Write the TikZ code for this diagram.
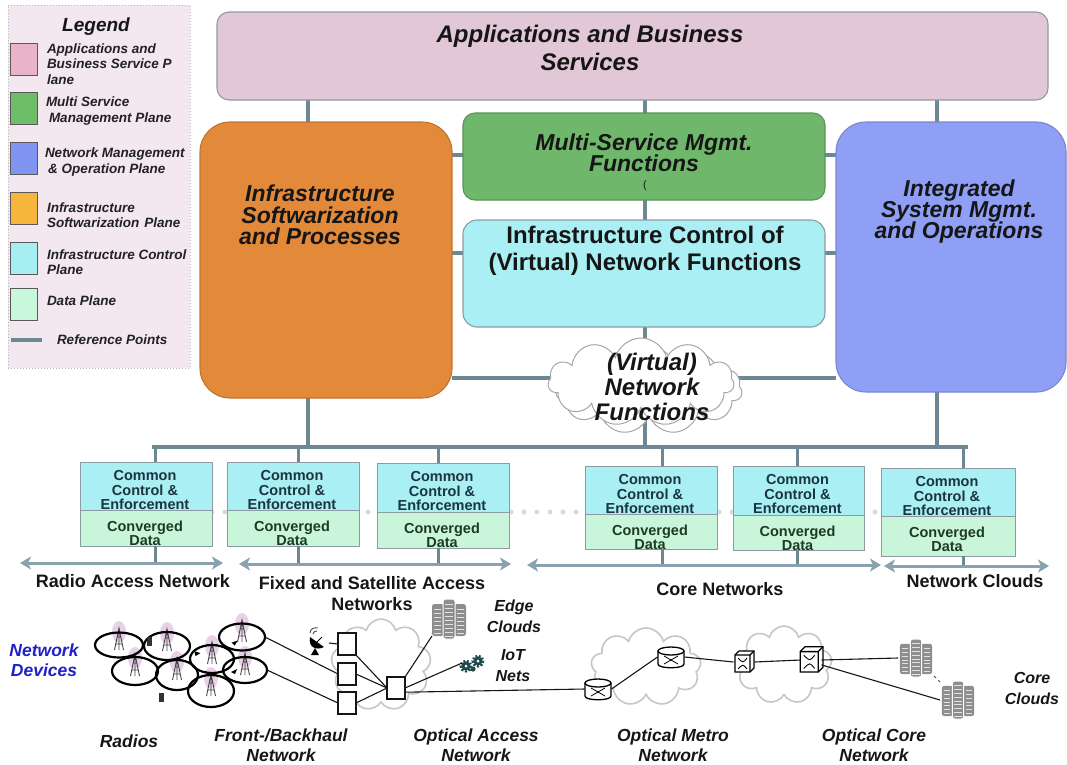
\documentclass[tikz,border=0pt]{standalone}
\usepackage{fontspec}
\setmainfont{Liberation Sans}
\usetikzlibrary{shapes.symbols,shapes.geometric,arrows.meta,backgrounds}

\definecolor{legbg}{HTML}{F3E7F0}
\definecolor{appfill}{HTML}{E2C8D6}
\definecolor{orfill}{HTML}{E2893A}
\definecolor{grfill}{HTML}{6FB86B}
\definecolor{cyfill}{HTML}{A9EFF3}
\definecolor{blfill}{HTML}{8E9FF5}
\definecolor{dpfill}{HTML}{C9F5DA}
\definecolor{swpink}{HTML}{E9B4CA}
\definecolor{swgreen}{HTML}{6DBD69}
\definecolor{swblue}{HTML}{8094F2}
\definecolor{sworange}{HTML}{F6B63E}
\definecolor{swcyan}{HTML}{A6EEF1}
\definecolor{swdata}{HTML}{C8F7DC}
\definecolor{refline}{HTML}{6D8893}
\definecolor{arrowc}{HTML}{8AA2AD}
\definecolor{edge}{HTML}{8C9BA3}
\definecolor{devblue}{HTML}{2020C8}
\definecolor{ink}{HTML}{161616}
\definecolor{legink}{HTML}{222222}
\definecolor{cceink}{HTML}{1B3540}
\definecolor{cdink}{HTML}{1D3B22}
\definecolor{rackc}{HTML}{8E8E8E}
\definecolor{gearc}{HTML}{1E4A4C}

% let stacked lines sit closer than their glyph boxes
\newcommand\tightlines{\lineskiplimit=-40pt\relax}

\begin{document}
\begin{tikzpicture}[x=1pt,y=-1pt,
  every node/.style={inner sep=0pt,outer sep=0pt,text=ink},
  plane/.style={draw=edge,line width=1.1pt,rounded corners=#1},
  refl/.style={draw=refline,line width=3.6pt},
  stubl/.style={draw=refline,line width=3pt},
  span/.style={draw=arrowc,line width=3pt,
    {Stealth[length=11pt,width=13pt,inset=3pt]}-{Stealth[length=11pt,width=13pt,inset=3pt]}},
  head/.style={font={\fontsize{24}{#1}\selectfont\tightlines\bfseries\itshape},align=center},
  headsm/.style={font={\fontsize{23}{#1}\selectfont\tightlines\bfseries\itshape},align=center},
  headup/.style={font={\fontsize{24}{#1}\selectfont\tightlines\bfseries},align=center},
  legtxt/.style={font={\fontsize{13.5}{15.5}\selectfont\tightlines\bfseries\itshape},
    align=left,anchor=west,text=legink},
  ccebox/.style={draw=edge,line width=1pt,fill=cyfill},
  cdbox/.style={draw=edge,line width=1pt,fill=dpfill},
  ccetxt/.style={font={\fontsize{14.5}{14.5}\selectfont\tightlines\bfseries},align=center,text=cceink},
  cdtxt/.style={font={\fontsize{14.5}{13.5}\selectfont\tightlines\bfseries},align=center,text=cdink},
  seglbl/.style={font={\fontsize{18}{21}\selectfont\tightlines\bfseries},align=center},
  netlbl/.style={font={\fontsize{17.5}{20}\selectfont\tightlines\bfseries\itshape},align=center},
  smalllbl/.style={font={\fontsize{16}{21}\selectfont\tightlines\bfseries\itshape},align=center},
  net/.style={draw=ink,line width=1.1pt},
  nodebox/.style={draw=ink,line width=1.4pt,fill=white,minimum width=18,minimum height=22},
  cell/.style={ellipse,draw=black,line width=2.2pt},
  graycloud/.style={cloud,cloud puffs=9,cloud ignores aspect,draw=gray!45,line width=1.6pt},
  iconanchor/.style={minimum width=#1,minimum height=#1},
  radiotower/.pic={
    \fill[violet!40,opacity=0.45] (0,-13) ellipse (7 and 11);
    \draw[gray!55!black,line width=0.9pt] (-4.5,5) -- (0,-17) -- (4.5,5)
      (0,-17) -- (0,5) (-3.2,-1) -- (3.2,-1) (-2,-8) -- (2,-8);
  },
  rackserver/.pic={
    \fill[rackc,rounded corners=2.5pt] (-17,-15) rectangle (-5,17);
    \fill[rackc,rounded corners=2.5pt] (5,-15) rectangle (17,17);
    \draw[white,line width=1pt,fill=rackc,rounded corners=2.5pt] (-6,-20) rectangle (6,20);
    \foreach \k in {-15,-11,...,17}
      \draw[white!75!rackc,line width=0.6pt] (-4,\k) -- (4,\k);
    \foreach \k in {-10,-6,...,14}
      \draw[white!75!rackc,line width=0.6pt] (-15,\k) -- (-8,\k) (8,\k) -- (15,\k);
  },
  iotgear/.pic={
    \draw[gearc,line width=3pt,dash pattern=on 1.8pt off 1.6pt] (-6,3) circle (5) (6,-2) circle (5);
    \fill[gearc] (-6,3) circle (4.6) (6,-2) circle (4.6) (1,6) circle (2.6);
    \fill[white] (-6,3) circle (1.5) (6,-2) circle (1.5);
  },
  satdish/.pic={
    \fill[black] (-8,-6) .. controls (-10,4) and (-2,8) .. (6,4) -- cycle;
    \fill[black] (-3,5) -- (-7,12) -- (1,12) -- cycle;
    \draw[black,line width=1pt] (-1,-1) -- (4,-6);
    \draw[gray!60!black,line width=0.9pt]
      (-8,-10) .. controls (-8,-14) and (-4,-16) .. (0,-15)
      (-5,-9) .. controls (-5,-11) and (-3,-12) .. (-1,-12);
  },
  metrorouter/.pic={
    \draw[black,line width=1.3pt,fill=white] (-13,-6) -- (-13,7) .. controls (-13,12) and (13,12) .. (13,7) -- (13,-6);
    \draw[black,line width=1.3pt,fill=white] (0,-6) ellipse (13 and 4);
    \draw[black,line width=0.8pt] (-7,-1) -- (7,7) (-7,7) -- (7,-1);
    \fill[black] (0,3) circle (1.2);
  },
  xconnect/.pic={
    \draw[black,line width=1.3pt,fill=white] (-9,-7) -- (-5,-11) -- (10,-11) -- (10,6) -- (6,10) -- (-9,10) -- cycle;
    \draw[black,line width=1.3pt] (-9,-7) -- (6,-7) -- (6,10) (6,-7) -- (10,-11);
    \draw[black,line width=0.9pt] (-6,-4) .. controls (-1,1) .. (3,-4) (-6,7) .. controls (-1,2) .. (3,7);
  }
]
\useasboundingbox (0,0) rectangle (1067,764);

% ---------------- legend ----------------
\node[draw=gray!55,dotted,line width=1pt,fill=legbg,minimum width=182,minimum height=363] (legend) at (99,186.5) {};
\node[font={\fontsize{19}{19}\selectfont\bfseries\itshape}] (legtitle) at (96,27) {Legend};
\foreach \n/\y/\c in {1/59/swpink,2/108/swgreen,3/158/swblue,4/208/sworange,5/258/swcyan,6/304/swdata}
  \node[draw=gray!70!black,line width=1pt,fill=\c,minimum width=27,minimum height=32] (sw\n) at (24,\y) {};
\node[legtxt] (lt1) at (47,64) {Applications and\\Business Service P\\lane};
\node[legtxt] (lt2) at (46,111) {Multi Service\\\hspace{3pt}Management Plane};
\node[legtxt] (lt3) at (45,162) {Network Management\\\hspace{3pt}\&\hspace{4pt}Operation Plane};
\node[legtxt] (lt4) at (47,215) {Infrastructure\\Softwarization\hspace{5pt}Plane};
\node[legtxt] (lt5) at (47,262) {Infrastructure Control\\Plane};
\node[legtxt] (lt6) at (47,301) {Data Plane};
\coordinate (rp0) at (11,340);
\coordinate (rp1) at (42,340);
\draw[refl,line width=4pt] (rp0) -- (rp1);
\node[legtxt] (lt7) at (57,340) {Reference Points};

% ---------------- planes ----------------
\node[plane=12,fill=appfill,minimum width=831,minimum height=88] (app) at (632.5,56) {};
\node[head=28] (apptxt) at (590,48) {Applications and Business\\Services};

\node[plane=30,draw=orfill!85!black,fill=orfill,minimum width=252,minimum height=276] (isp) at (326,260) {};
\node[headsm=21.5] (isptxt) at (320,215) {Infrastructure\\Softwarization\\and\hspace{6pt}Processes};

\node[plane=12,draw=grfill!80!black,fill=grfill,minimum width=362,minimum height=87] (msm) at (644,156.5) {};
\node[headsm=21] (msmtxt) at (644,153) {Multi-Service Mgmt.\\Functions};
\node[font={\fontsize{11}{11}\selectfont}] (msmpar) at (645,186) {(};

\node[plane=14,fill=cyfill,minimum width=362,minimum height=107] (icv) at (644,273.5) {};
\node[headup=27] (icvtxt) at (645,250.5) {Infrastructure Control of\\(Virtual) Network Functions};

\node[plane=30,draw=blfill!85!black,fill=blfill,minimum width=230,minimum height=270] (ism) at (951,257) {};
\node[headsm=21] (ismtxt) at (959,212) {Integrated\\System Mgmt.\\and Operations};

\node[cloud,cloud puffs=11,cloud ignores aspect,draw=gray!70,line width=1pt,fill=white,
      minimum width=186,minimum height=88] (vnfs) at (649,390) {};
\node[cloud,cloud puffs=11,cloud ignores aspect,draw=gray!70,line width=1pt,fill=white,
      minimum width=186,minimum height=88] (vnf) at (641,382) {};
\node[head=25] (vnftxt) at (652,387) {(Virtual)\\Network\\Functions};

% ---------------- reference point bus ----------------
\coordinate (colL) at (308,0);
\coordinate (colM) at (645,0);
\coordinate (colR) at (937,0);
\coordinate (row1) at (0,155);
\coordinate (row2) at (0,253);
\coordinate (row3) at (0,378);
\coordinate (busL) at (152,447);
\coordinate (busR) at (968,447);

% ---------------- domain blocks ----------------
\draw[gray!30,line width=5pt,line cap=round,dash pattern=on 0pt off 13pt] (212,512) -- (881,512);
\foreach \i/\xa/\xb/\ya/\ym/\yb/\xd/\yr in {
   1/80/212/462/510/546/155/563,
   2/227/359/462/510/546/298/563,
   3/377/509/463/512/548/438/564,
   4/585/717/466/514/549/662/566,
   5/733/864/466/515/550/797/566,
   6/881/1015/468/516/556/963/566}{
  \coordinate (d\i) at (\xd,447);
  \coordinate (e\i) at (\xd,\yr);
  \node[ccebox,minimum width={\xb-\xa},minimum height={\ym-\ya}] (cce\i) at ({(\xa+\xb)/2},{(\ya+\ym)/2}) {};
  \node[cdbox,minimum width={\xb-\xa},minimum height={\yb-\ym}] (cd\i) at ({(\xa+\xb)/2},{(\ym+\yb)/2}) {};
  \node[ccetxt] (ccet\i) at ({(\xa+\xb)/2-1},{\ya+28}) {Common\\Control \&\\Enforcement};
  \node[cdtxt] (cdt\i) at ({(\xa+\xb)/2-1},{\ym+23.5}) {Converged\\Data};
  \begin{pgfonlayer}{background}
    \draw[stubl] (d\i) -- (d\i |- cce\i.north);
  \end{pgfonlayer}
  \draw[stubl] (cd\i.south -| d\i) -- (e\i);
}

\begin{pgfonlayer}{background}
  \draw[refl] (app.south -| colL) -- (isp.north -| colL);
  \draw[refl] (app.south -| colM) -- (msm.north -| colM);
  \draw[refl] (app.south -| colR) -- (ism.north -| colR);
  \draw[refl] (isp.east |- row1) -- (msm.west |- row1);
  \draw[refl] (msm.east |- row1) -- (ism.west |- row1);
  \draw[refl] (isp.east |- row2) -- (icv.west |- row2);
  \draw[refl] (icv.east |- row2) -- (ism.west |- row2);
  \draw[refl] (msm.south -| colM) -- (icv.north -| colM);
  \draw[refl] (icv.south -| colM) -- (colM |- busL);
  \draw[refl] (isp.east |- row3) -- (ism.west |- row3);
  \draw[refl] (isp.south -| colL) -- (colL |- busL);
  \draw[refl] (ism.south -| colR) -- (colR |- busL);
  \draw[refl] (busL) -- (busR);
\end{pgfonlayer}

% ---------------- domain spans ----------------
\coordinate (ra0) at (20,563);  \coordinate (ra1) at (223,563);
\coordinate (fs0) at (239,564); \coordinate (fs1) at (511,564);
\coordinate (cn0) at (527,565); \coordinate (cn1) at (881,565);
\coordinate (nc0) at (884,566); \coordinate (nc1) at (1049,566);
\draw[span] (ra0) -- (ra1);
\draw[span] (fs0) -- (fs1);
\draw[span] (cn0) -- (cn1);
\draw[span] (nc0) -- (nc1);

\node[seglbl] (lra) at (133,581) {Radio Access Network};
\node[seglbl] (lfs) at (372,593.5) {Fixed and Satellite Access\\Networks};
\node[seglbl] (lcn) at (720,589) {Core Networks};
\node[seglbl] (lnc) at (975,581) {Network Clouds};

% ---------------- network devices ----------------
\node[netlbl,text=devblue] (devs) at (44,660) {Network\\Devices};

% radio cells
\foreach \cx/\cy in {119/645,167/646,242/637,135/671,177/675,212/659,245/670,211/691}
  \pic at (\cx,\cy) {radiotower};
\node[cell,minimum width=48,minimum height=25] (c1) at (119,645) {};
\node[cell,minimum width=46,minimum height=28] (c2) at (167,646) {};
\node[cell,minimum width=46,minimum height=27] (c3) at (242,637) {};
\node[cell,minimum width=46,minimum height=28] (c4) at (135,671) {};
\node[cell,minimum width=42,minimum height=30] (c5) at (177,675) {};
\node[cell,minimum width=44,minimum height=28] (c6) at (212,659) {};
\node[cell,minimum width=44,minimum height=26] (c7) at (245,670) {};
\node[cell,minimum width=46,minimum height=32] (c8) at (211,691) {};
\node[fill=gray!40!black,minimum width=5,minimum height=9] (ph1) at (149,641) {};
\node[fill=gray!40!black,minimum width=5,minimum height=9] (ph2) at (161,697) {};
\fill[black] (c3.south west) ++(6,-4) -- ++(6,-2) -- ++(-3,5) -- cycle;
\fill[black] (c7.west) ++(8,2) -- ++(6,-3) -- ++(-2,5) -- cycle;
\fill[black] (c6.north west) ++(-2,2) -- ++(6,2) -- ++(-5,3) -- cycle;

% fixed / satellite access
\node[graycloud,minimum width=100,minimum height=92] (acl) at (381,665) {};
\node[nodebox] (b1) at (347,644) {};
\node[nodebox] (b2) at (347,674) {};
\node[nodebox] (b3) at (347,703) {};
\node[nodebox] (ao) at (396,688) {};
\node[iconanchor=22] (dish) at (318,643) {};
\pic at (318,643) {satdish};
\node[iconanchor=34] (es) at (449,619) {};
\pic at (449,619) {rackserver};
\node[iconanchor=20] (iot) at (472,663) {};
\pic at (472,663) {iotgear};
\node[smalllbl] (edgel) at (514,616) {Edge\\Clouds};
\node[smalllbl] (iotl) at (513,665.5) {IoT\\Nets};

\draw[net] (c3.east) -- (b2.west);
\draw[net] (c7.east) -- (b3.west);
\draw[net] (dish.east) -- (b1.west);
\draw[net] (b1.south east) -- (ao.west);
\draw[net] (b2.east) -- (ao.west);
\draw[net] (b3.east) -- (ao.west);
\draw[net] (ao.north east) -- (es.south west);
\draw[net] (ao.east) -- (iot.west);

% metro and core
\node[graycloud,minimum width=110,minimum height=78] (mcl1) at (646,667) {};
\node[graycloud,minimum width=96,minimum height=78] (mcl2) at (784,665) {};
\node[iconanchor=22,minimum width=27] (r1) at (598,689) {};
\pic at (598,689) {metrorouter};
\node[iconanchor=22,minimum width=27] (r2) at (671,657) {};
\pic at (671,657) {metrorouter};
\node[iconanchor=21] (k1) at (744,662) {};
\pic at (744,662) {xconnect};
\node[iconanchor=21] (k2) at (811,660) {};
\pic[scale=1.2] at (811,660) {xconnect};
\node[iconanchor=36] (s1) at (916,658) {};
\pic[scale=0.95] at (916,658) {rackserver};
\node[iconanchor=36] (s2) at (958,700) {};
\pic[scale=0.95] at (958,700) {rackserver};
\node[smalllbl] (corel) at (1032,688) {Core\\Clouds};

\draw[net] (ao.-25) -- (r1.west);
\draw[net] (r1.east) -- (r2.west);
\draw[net] (r2.east) -- (k1.west);
\draw[net] (k1.east) -- (k2.west);
\draw[net] (k2.east) -- (s1.west);
\draw[net] (k2.-25) -- (s2.west);
\draw[gray!60!black,line width=1pt,dashed] (s1.south east) -- (s2.north west);

% ---------------- segment labels ----------------
\node[netlbl] (lrad) at (129,741) {Radios};
\node[netlbl] (lfb) at (281,745) {Front-/Backhaul\\Network};
\node[netlbl] (loa) at (476,745) {Optical Access\\Network};
\node[netlbl] (lom) at (673,745) {Optical Metro\\Network};
\node[netlbl] (loc) at (874,745) {Optical Core\\Network};
\end{tikzpicture}
\end{document}
